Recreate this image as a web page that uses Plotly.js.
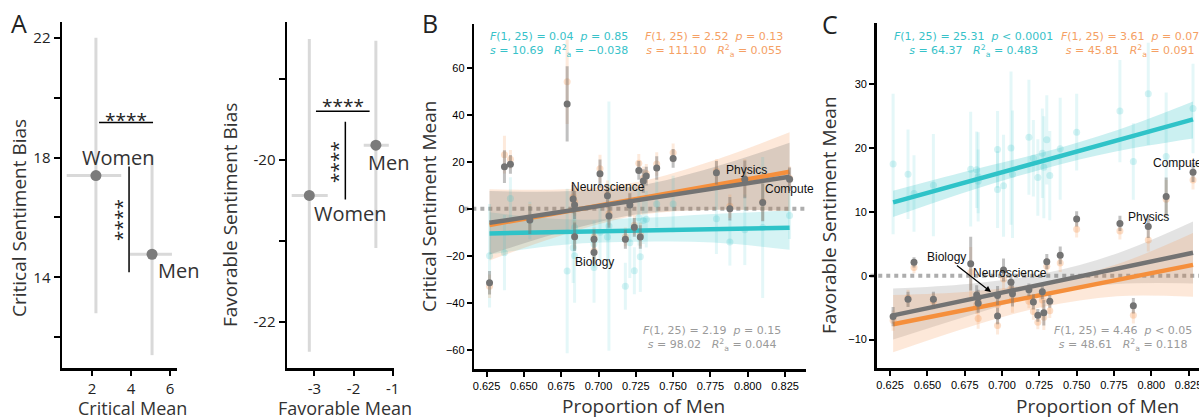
<!DOCTYPE html>
<html><head><meta charset="utf-8">
<script src="https://cdn.plot.ly/plotly-3.0.1.min.js"></script>
<style>html,body{margin:0;padding:0;background:#fff}#chart{width:1199px;height:420px}</style>
</head><body><div id="chart"></div>
<script>
// ---------- Panel A data ----------
const aGroups = ['Women', 'Men'];
const critMean = [2.2, 5.08];
const critMeanLo = [1.5, 1.13];
const critMeanHi = [1.3, 1.02];
const critBias = [17.4, 14.77];
const critBiasLo = [4.6, 3.37];
const critBiasHi = [4.6, 3.33];
const favMean = [-3.13, -1.43];
const favMeanLo = [0.45, 0.31];
const favMeanHi = [0.47, 0.33];
const favBias = [-20.44, -19.82];
const favBiasLo = [1.93, 1.27];
const favBiasHi = [1.93, 1.29];

// ---------- Panels B / C data (27 fields) ----------
const fieldX = [0.627,0.637,0.641,0.654,0.679,0.683,0.684,0.684,0.697,0.697,0.701,0.706,0.707,0.718,0.721,0.724,0.727,0.728,0.730,0.732,0.739,0.750,0.779,0.788,0.798,0.810,0.828];

const critGray = [-31.5,17.9,18.9,-4.8,44.6,4.1,1.6,-11.9,-13.0,-18.6,14.9,5.5,-3.1,-13.0,1.6,-7.9,16.3,-12.0,11.8,13.9,17.3,21.4,15.3,0.0,12.5,2.7,12.5];
const critGrayErr = [5,7,4,6,16,6,6,6,4,5,6,5,5,4,5,4,4,5,5,4,5,4,5,5,8,8,5];
const critOrange = [-33,23,21,-4,54,5,3,-11,-12,-18,17,6,-2,-12,2,-7,19.3,-11,13,15,19,23.8,16,1,13,3,13];
const critOrangeErr = [5,8,4,6,18,6,6,6,4,5,6,6,5,4,5,4,4,5,5,4,5,4,5,5,8,8,5];
const critCyan = [-20.0,-18.7,4.4,-5,-26.5,-16.6,-8,-20,-15,-25,-10,-12,-7.4,-33,-14.5,-26.4,-3.7,-20.4,-5.0,-4.5,2.0,2.0,-4.3,-14.2,-9.0,-8,-2.9];
const critCyanErr = [22,16,9,8,35,15,10,20,10,15,12,10,53,10,15,10,12,15,10,12,10,12,15,10,15,30,10];

const favGray = [-6.4,-3.7,2.1,-3.7,1.9,-3.0,-4.3,-3.4,-3.1,-6.3,0.9,-1.0,-2.8,-2.2,-4.1,-6.2,-2.5,-5.8,2.2,-4.0,3.2,8.9,8.2,-4.7,7.7,12.4,16.2];
const favGrayErr = [1.5,1.2,0.8,1.2,4.2,1.5,1.5,1.2,1.5,1.3,1.8,1.2,2.0,1.0,1.2,1.0,1.2,2.0,1.2,1.0,1.4,1.2,1.2,1.2,1.8,3.0,1.5];
const favOrange = [-7.0,-3.5,1.3,-4.0,0.5,-4.5,-6.7,-4.0,-4.5,-7.8,-0.5,-2.0,-3.8,-4.0,-5.6,-7.3,-3.8,-6.5,1.5,-5.5,2.0,7.3,7.0,-6.2,5.6,12.0,15.0];
const favOrangeErr = [1.6,1.3,0.9,1.3,4.0,1.5,1.6,1.3,1.5,1.4,1.8,1.3,2.0,1.1,1.3,1.1,1.3,2.0,1.3,1.1,1.4,1.3,1.3,1.3,1.8,3.0,1.5];
const favCyan = [17.5,15.9,12.9,14.2,16.7,16.6,14.8,15.5,19.8,13.5,14.1,20.0,15.9,21.7,18.4,15.4,19.2,17.0,21.3,15.7,19.9,22.5,25.8,17.9,28.5,18.7,26.2];
const favCyanErr = [11,7,6,8,9,6,5,7,6,6,8,12,10,9,6,6,7,8,7,7,8,6,8,6,8,10,7];

// regression fits (endpoints) and confidence bands
const fitX = [0.627, 0.828];
const critFitCyan = [-10.5, -8.1];
const critFitGray = [-6.0, 13.6];
const critFitOrange = [-6.9, 15.7];
const favFitCyan = [11.5, 24.5];
const favFitGray = [-6.2, 3.6];
const favFitOrange = [-7.6, 1.7];

const bandX = [0.627, 0.677, 0.727, 0.777, 0.828];
const critBandGrayHi = [7.5, 7.4, 9.8, 17.6, 28.1];
const critBandGrayLo = [-19.5, -9.6, -2.2, -0.4, -0.9];
const critBandOrangeHi = [8.3, 8.3, 11.5, 20.5, 32.5];
const critBandOrangeLo = [-22, -11, -2.7, -0.5, -1];
const critBandCyanHi = [-1.5, -4.5, -4.0, -2.2, -0.8];
const critBandCyanLo = [-19.5, -15.3, -14.1, -14.4, -17.5];
const favBandCyanHi = [13.3, 16.4, 19.3, 22.8, 27.3];
const favBandCyanLo = [9.2, 13.2, 16.7, 19.5, 21.5];
const favBandGrayHi = [-2.0, -1.3, 0.3, 3.5, 8.5];
const favBandGrayLo = [-10.0, -6.3, -2.9, -1.3, -1.2];
const favBandOrangeHi = [-3.0, -2.5, -1.1, 1.8, 6.7];
const favBandOrangeLo = [-12.0, -8.1, -4.9, -3.2, -3.3];

const xTicksBC = [0.625,0.650,0.675,0.700,0.725,0.750,0.775,0.800,0.825];

// ---------- styling ----------
const W = 1199, H = 420;
const PX = x => x / W, PY = y => 1 - y / H;
const CYAN = '#2fc3c8', ORANGE = '#f58f3c', GRAY = '#737373';
const cyanA = a => `rgba(47,195,200,${a})`;
const orangeA = a => `rgba(245,150,80,${a})`;
const grayA = a => `rgba(115,115,115,${a})`;

const traces = [];

// Panel A
function aTrace(x, xlo, xhi, y, ylo, yhi, xa, ya) {
  return {type:'scatter', mode:'markers', x:x, y:y, xaxis:xa, yaxis:ya,
    marker:{color:'#7b7b7b', size:11},
    error_x:{type:'data', array:xhi, arrayminus:xlo, color:'#d9d9d9', thickness:3, width:0},
    error_y:{type:'data', array:yhi, arrayminus:ylo, color:'#d9d9d9', thickness:3, width:0},
    hoverinfo:'skip', showlegend:false};
}
traces.push(aTrace(critMean, critMeanLo, critMeanHi, critBias, critBiasLo, critBiasHi, 'x', 'y'));
traces.push(aTrace(favMean, favMeanLo, favMeanHi, favBias, favBiasLo, favBiasHi, 'x2', 'y2'));

function band(xs, hi, lo, fill, xa, ya) {
  traces.push({type:'scatter', mode:'lines', x:xs, y:hi, xaxis:xa, yaxis:ya, line:{width:0, shape:'spline'}, hoverinfo:'skip', showlegend:false});
  traces.push({type:'scatter', mode:'lines', x:xs, y:lo, xaxis:xa, yaxis:ya, line:{width:0, shape:'spline'}, fill:'tonexty', fillcolor:fill, hoverinfo:'skip', showlegend:false});
}
function pts(y, err, mcol, ecol, size, xa, ya) {
  traces.push({type:'scatter', mode:'markers', x:fieldX, y:y, xaxis:xa, yaxis:ya,
    marker:{color:mcol, size:size},
    error_y:{type:'data', array:err, color:ecol, thickness:3, width:0},
    hoverinfo:'skip', showlegend:false});
}
function fit(y, col, xa, ya) {
  traces.push({type:'scatter', mode:'lines', x:fitX, y:y, xaxis:xa, yaxis:ya, line:{color:col, width:4.5}, hoverinfo:'skip', showlegend:false});
}

// Panel B
band(bandX, critBandCyanHi, critBandCyanLo, cyanA(0.2), 'x3', 'y3');
band(bandX, critBandOrangeHi, critBandOrangeLo, orangeA(0.22), 'x3', 'y3');
band(bandX, critBandGrayHi, critBandGrayLo, grayA(0.25), 'x3', 'y3');
pts(critCyan, critCyanErr, cyanA(0.2), cyanA(0.13), 7, 'x3', 'y3');
pts(critOrange, critOrangeErr, orangeA(0.3), orangeA(0.2), 7, 'x3', 'y3');
fit(critFitCyan, CYAN, 'x3', 'y3');
fit(critFitOrange, ORANGE, 'x3', 'y3');
fit(critFitGray, GRAY, 'x3', 'y3');
pts(critGray, critGrayErr, GRAY, grayA(0.45), 7, 'x3', 'y3');

// Panel C
band(bandX, favBandCyanHi, favBandCyanLo, cyanA(0.25), 'x4', 'y4');
band(bandX, favBandGrayHi, favBandGrayLo, grayA(0.2), 'x4', 'y4');
band(bandX, favBandOrangeHi, favBandOrangeLo, orangeA(0.22), 'x4', 'y4');
pts(favCyan, favCyanErr, cyanA(0.2), cyanA(0.13), 7, 'x4', 'y4');
pts(favOrange, favOrangeErr, orangeA(0.3), orangeA(0.2), 7, 'x4', 'y4');
fit(favFitCyan, CYAN, 'x4', 'y4');
fit(favFitOrange, ORANGE, 'x4', 'y4');
fit(favFitGray, GRAY, 'x4', 'y4');
pts(favGray, favGrayErr, GRAY, grayA(0.45), 7, 'x4', 'y4');

// ---------- axes ----------
const axBase = {showline:true, linecolor:'#000', linewidth:2.5, ticks:'outside', ticklen:6, tickwidth:2, tickcolor:'#000',
  showgrid:false, zeroline:false, fixedrange:true, ticklabeloverflow:'allow'};
const fontA = {family:'Open Sans', size:15, color:'#222'};
const fontBC = {family:'Liberation Sans', size:11, color:'#000'};

const layout = {
  width:W, height:H, margin:{l:0, r:0, t:0, b:0}, paper_bgcolor:'#fff', plot_bgcolor:'rgba(0,0,0,0)', showlegend:false,
  xaxis: Object.assign({}, axBase, {domain:[PX(62), PX(177)], anchor:'y', range:[0.46, 6.36], tickvals:[2,4,6], tickfont:fontA, ticklen:5}),
  yaxis: Object.assign({}, axBase, {domain:[PY(368), PY(22)], anchor:'x', range:[10.97, 22.53], tickvals:[12,14,16,18,20,22], ticktext:['','14','','18','','22'], tickfont:fontA}),
  xaxis2: Object.assign({}, axBase, {domain:[PX(287), PX(393.5)], anchor:'y2', range:[-3.70, -0.98], tickvals:[-3,-2,-1], ticktext:['-3','-2','-1'], tickfont:fontA, ticklen:5}),
  yaxis2: Object.assign({}, axBase, {domain:[PY(368), PY(22)], anchor:'x2', range:[-22.57, -18.30], tickvals:[-22,-21,-20,-19], ticktext:['-22','','-20',''], tickfont:fontA}),
  xaxis3: Object.assign({}, axBase, {domain:[PX(474.3), PX(806)], anchor:'y3', range:[0.6168, 0.839], tickvals:xTicksBC, tickformat:'.3f', tickfont:fontBC, ticklen:5}),
  yaxis3: Object.assign({}, axBase, {domain:[PY(369), PY(24)], anchor:'x3', range:[-68.2, 78.6], tickvals:[-60,-40,-20,0,20,40,60], tickfont:fontBC, ticklen:5}),
  xaxis4: Object.assign({}, axBase, {domain:[PX(876.7), 1], anchor:'y4', range:[0.6160, 0.832], tickvals:xTicksBC, tickformat:'.3f', tickfont:fontBC, ticklen:5}),
  yaxis4: Object.assign({}, axBase, {domain:[PY(368.3), PY(22.7)], anchor:'x4', range:[-14.5, 39.65], tickvals:[-10,0,10,20,30], tickfont:fontBC, ticklen:5}),
  shapes: [
    // zero reference lines
    {type:'line', xref:'x3 domain', yref:'y3', x0:-0.03, x1:1, y0:0, y1:0, line:{color:'#adadad', width:4, dash:'dot'}, layer:'below'},
    {type:'line', xref:'x4 domain', yref:'y4', x0:-0.02, x1:1, y0:0, y1:0, line:{color:'#adadad', width:4, dash:'dot'}, layer:'below'},
    // significance brackets A
    {type:'line', xref:'x', yref:'y', x0:2.36, x1:5.13, y0:19.17, y1:19.17, line:{color:'#000', width:1.5}},
    {type:'line', xref:'x', yref:'y', x0:3.9, x1:3.9, y0:17.7, y1:14.17, line:{color:'#000', width:1.5}},
    {type:'line', xref:'x2', yref:'y2', x0:-2.96, x1:-1.59, y0:-19.40, y1:-19.40, line:{color:'#000', width:1.5}},
    {type:'line', xref:'x2', yref:'y2', x0:-2.21, x1:-2.21, y0:-19.53, y1:-20.49, line:{color:'#000', width:1.5}}
  ],
  annotations: []
};

function ann(text, x, y, font, extra) {
  layout.annotations.push(Object.assign({text:text, x:PX(x), y:PY(y), xref:'paper', yref:'paper', showarrow:false,
    xanchor:'center', yanchor:'middle', borderpad:0, font:font}, extra || {}));
}
const titleFont = {family:'Open Sans', size:19, color:'#333'};
const titleFontA = {family:'Open Sans', size:18, color:'#333'};
const letterFont = {family:'Open Sans', size:25, color:'#222'};
const labFont = {family:'Open Sans', size:20, color:'#333'};
const starFont = {family:'Open Sans', size:19, color:'#222'};
const fieldFont = {family:'Liberation Sans', size:12, color:'#111'};
const nb = '\u00a0';

// panel letters
ann('A', 19, 23, letterFont);
ann('B', 430, 23, letterFont);
ann('C', 830, 24, letterFont);

// axis titles
ann('Critical Sentiment Bias', 19, 218, titleFont, {textangle:-90});
ann('Critical Mean', 132, 408, titleFontA);
ann('Favorable Sentiment Bias', 230, 215, titleFont, {textangle:-90});
ann('Favorable Mean', 345, 408, titleFontA);
ann('Critical Sentiment Mean', 429, 207, titleFont, {textangle:-90});
ann('Proportion of Men', 643, 406, titleFont);
ann('Favorable Sentiment Mean', 829, 215, titleFont, {textangle:-90});
ann('Proportion of Men', 1097, 406, titleFont);

// Panel A labels
ann('Women', 118, 157, labFont);
ann('Men', 178, 270, labFont);
ann('Men', 388, 163, labFont);
ann('Women', 350, 213, labFont);
ann('****', 126, 120, starFont);
ann('****', 122, 220, starFont, {textangle:-90});
ann('****', 343, 106, starFont);
ann('****', 338, 162, starFont, {textangle:-90});

// stats text
const statFont = c => ({family:'DejaVu Sans', size:11, color:c});
const sCy = '#37c2c9', sOr = '#f5a064', sGr = '#9a9a9a';
function stat(F, p, s, r, x, y, col) {
  ann(`<i>F</i>(1,${nb}25)${nb}=${nb}${F}${nb}${nb}<i>p</i>${nb}${p}<br><i>s</i>${nb}=${nb}${s}${nb}${nb}${nb}<i>R</i><sup>2</sup><sub>a</sub>${nb}=${nb}${r}`,
    x, y, statFont(col));
}
stat('0.04', '=' + nb + '0.85', '10.69', '\u22120.038', 559, 45, sCy);
stat('2.52', '=' + nb + '0.13', '111.10', '0.055', 714, 45, sOr);
stat('2.19', '=' + nb + '0.15', '98.02', '0.044', 712, 338, sGr);
stat('25.31', '<' + nb + '0.0001', '64.37', '0.483', 973, 45, sCy);
stat('3.61', '=' + nb + '0.07', '45.81', '0.091', 1130, 45, sOr);
stat('4.46', '<' + nb + '0.05', '48.61', '0.118', 1123, 338, sGr);

// field labels
ann('Neuroscience', 608, 186.5, fieldFont);
ann('Physics', 746, 170, fieldFont);
ann('Compute', 789, 189.5, fieldFont);
ann('Biology', 594, 261.5, fieldFont);
ann('Neuroscience', 1010, 273, fieldFont);
ann('Physics', 1148, 217, fieldFont);
ann('Compute', 1177, 163, fieldFont);
layout.annotations.push({text:'Biology', x:PX(991), y:PY(292), xref:'paper', yref:'paper', showarrow:true,
  ax:-45, ay:-35, arrowhead:2, arrowsize:1, arrowwidth:1.2, arrowcolor:'#000', font:fieldFont});

Plotly.newPlot('chart', traces, layout, {staticPlot:true, displayModeBar:false});
</script></body></html>
